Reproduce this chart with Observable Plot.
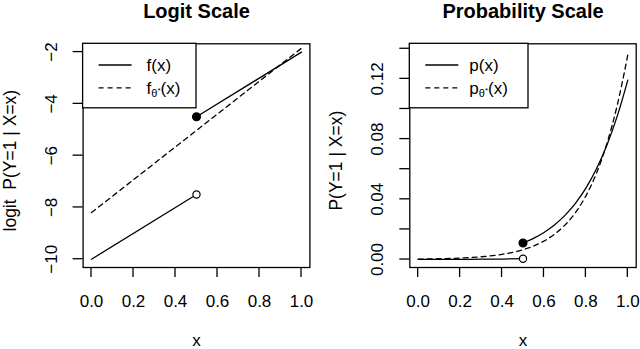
<!DOCTYPE html>
<html><head><meta charset="utf-8">
<script src="https://cdn.jsdelivr.net/npm/d3@7"></script>
<script src="https://cdn.jsdelivr.net/npm/@observablehq/plot@0.6"></script>
<style>
body{margin:0;background:#fff;}
#wrap{display:flex;width:640px;height:349px;}
#wrap svg{overflow:visible;}
</style></head><body><div id="wrap"></div>
<script>
// ---- tick values / labels ----
const xTicks = [0, 0.2, 0.4, 0.6, 0.8, 1.0];
const xTickLabels = ["0.0", "0.2", "0.4", "0.6", "0.8", "1.0"];
const logitTicks = [-10, -8, -6, -4, -2];
const logitTickLabels = ["\u221210", "\u22128", "\u22126", "\u22124", "\u22122"];
const probTicks = [0, 0.02, 0.04, 0.06, 0.08, 0.10, 0.12, 0.14];
const probLabelTicks = [0, 0.04, 0.08, 0.12];
const probTickLabels = ["0.00", "0.04", "0.08", "0.12"];

// ---- logit panel data ----
const fLowX = [0, 0.5];
const fLowY = [-10, -7.5];
const fHighX = [0.5, 1.0];
const fHighY = [-4.5, -2.0];
const fStarX = [0, 1.0];
const fStarY = [-8.2, -1.85];

// ---- probability panel data ----
const pLowX = [0, 0.1, 0.2, 0.3, 0.4, 0.5];
const pLowY = [0.00005, 0.00007, 0.00012, 0.0002, 0.00033, 0.00055];
const pHighX = [0.5, 0.55, 0.6, 0.65, 0.7, 0.75, 0.8, 0.85, 0.9, 0.95, 1.0];
const pHighY = [0.011, 0.0141, 0.018, 0.023, 0.0293, 0.0373, 0.0474, 0.0601, 0.0759, 0.0954, 0.1192];
const pStarX = [0, 0.1, 0.2, 0.3, 0.4, 0.5, 0.55, 0.6, 0.65, 0.7, 0.75, 0.8, 0.85, 0.9, 0.95, 1.0];
const pStarY = [0.00027, 0.00052, 0.00098, 0.00184, 0.00347, 0.00653, 0.00894, 0.01225, 0.01675, 0.02286, 0.03114, 0.04229, 0.05718, 0.07693, 0.10276, 0.13583];

const titles = ["Logit Scale", "Probability Scale"];
const yLabels = ["logit\u00a0\u00a0P(Y=1 | X=x)", "P(Y=1 | X=x)"];
const xLabel = "x";
const legendLogit = [["f", null], ["f", "θ*"]];
const legendProb = [["p", null], ["p", "θ*"]];

const zip = (xs, ys) => xs.map((x, i) => ({x, y: ys[i]}));
const LW = 1.3;
const DASH = "5,4";
const FONT = "Liberation Sans, Arial, sans-serif";
const C = {textAnchor: "middle", lineAnchor: "middle"};

// tick marks outside the frame, positioned through Plot's own scales
function ticksMark(axis, values, size) {
  return (index, scales, channels, dims) => {
    const g = d3.create("svg:g").attr("stroke", "black").attr("stroke-width", LW);
    const fl = dims.marginLeft, fb = dims.height - dims.marginBottom;
    values.forEach(v => {
      if (axis === "x") {
        const p = scales.x(v);
        g.append("line").attr("x1", p).attr("x2", p).attr("y1", fb).attr("y2", fb + size);
      } else {
        const p = scales.y(v);
        g.append("line").attr("y1", p).attr("y2", p).attr("x1", fl).attr("x2", fl - size);
      }
    });
    return g.node();
  };
}

function legendMark(labels, boxW, textX) {
  return (index, scales, values, dims) => {
    const g = d3.create("svg:g");
    const x0 = dims.marginLeft, y0 = dims.marginTop;
    g.append("rect").attr("x", x0).attr("y", y0).attr("width", boxW).attr("height", 64.5)
      .attr("fill", "white").attr("stroke", "black").attr("stroke-width", LW);
    const rows = [21.7, 44.5];
    labels.forEach(([base, sub], i) => {
      const y = y0 + rows[i];
      g.append("line").attr("x1", x0 + 16).attr("x2", x0 + 49).attr("y1", y).attr("y2", y)
        .attr("stroke", "black").attr("stroke-width", LW)
        .attr("stroke-dasharray", i === 1 ? DASH : null);
      const t = g.append("text").attr("x", x0 + textX).attr("y", y).attr("dy", "0.36em")
        .attr("text-anchor", "start").attr("font-size", 17).attr("fill", "black");
      t.append("tspan").text(base);
      if (sub) {
        t.append("tspan").attr("font-size", 11).attr("dy", 3).text("θ");
        t.append("tspan").attr("font-size", 8).attr("dy", -4).text("*");
        t.append("tspan").attr("dy", 1).text("(x)");
      } else {
        t.append("tspan").text("(x)");
      }
    });
    return g.node();
  };
}

function common(title, yLabel) {
  return [
    Plot.text([title], {...C, frameAnchor: "top", dy: -32.7, fontSize: 20, fontWeight: "bold"}),
    Plot.text([yLabel], {...C, frameAnchor: "left", dx: -73, dy: 5, rotate: -90, fontSize: 17.5}),
    Plot.text([xLabel], {...C, frameAnchor: "bottom", dy: 73, fontSize: 17}),
    ticksMark("x", xTicks, 10),
    Plot.text(xTicks, {...C, x: d => d, text: (d, i) => xTickLabels[i], frameAnchor: "bottom", dy: 34, fontSize: 17}),
    Plot.frame({stroke: "black", strokeWidth: LW})
  ];
}

const left = Plot.plot({
  width: 320, height: 349,
  marginLeft: 82.6, marginRight: 10.6, marginTop: 43.3, marginBottom: 82,
  style: {fontFamily: FONT, fontSize: "16px", background: "white"},
  x: {domain: [-0.04, 1.04], axis: null},
  y: {domain: [-10.32, -1.68], axis: null},
  marks: [
    ...common(titles[0], yLabels[0]),
    ticksMark("y", logitTicks, 10),
    Plot.text(logitTicks, {...C, y: d => d, text: (d, i) => logitTickLabels[i], frameAnchor: "left", dx: -32, rotate: -90, fontSize: 17}),
    Plot.line(zip(fStarX, fStarY), {x: "x", y: "y", stroke: "black", strokeWidth: LW, strokeDasharray: DASH}),
    Plot.line(zip(fLowX, fLowY), {x: "x", y: "y", stroke: "black", strokeWidth: LW}),
    Plot.line(zip(fHighX, fHighY), {x: "x", y: "y", stroke: "black", strokeWidth: LW}),
    Plot.dot([{x: fLowX[1], y: fLowY[1]}], {x: "x", y: "y", r: 3.6, fill: "white", stroke: "black", strokeWidth: 1.2}),
    Plot.dot([{x: fHighX[0], y: fHighY[0]}], {x: "x", y: "y", r: 3.8, fill: "black", stroke: "black"}),
    legendMark(legendLogit, 113.4, 64)
  ]
});

const right = Plot.plot({
  width: 320, height: 349,
  marginLeft: 89.3, marginRight: 4.3, marginTop: 43.3, marginBottom: 82,
  style: {fontFamily: FONT, fontSize: "16px", background: "white"},
  x: {domain: [-0.04, 1.04], axis: null},
  y: {domain: [-0.0053, 0.1433], axis: null},
  marks: [
    ...common(titles[1], yLabels[1]),
    ticksMark("y", probTicks, 10),
    Plot.text(probLabelTicks, {...C, y: d => d, text: (d, i) => probTickLabels[i], frameAnchor: "left", dx: -32, rotate: -90, fontSize: 17}),
    Plot.line(zip(pStarX, pStarY), {x: "x", y: "y", stroke: "black", strokeWidth: LW, strokeDasharray: DASH, curve: "monotone-x"}),
    Plot.line(zip(pLowX, pLowY), {x: "x", y: "y", stroke: "black", strokeWidth: LW, curve: "monotone-x"}),
    Plot.line(zip(pHighX, pHighY), {x: "x", y: "y", stroke: "black", strokeWidth: LW, curve: "monotone-x"}),
    Plot.dot([{x: pLowX[5], y: pLowY[5]}], {x: "x", y: "y", r: 3.6, fill: "white", stroke: "black", strokeWidth: 1.2}),
    Plot.dot([{x: pHighX[0], y: pHighY[0]}], {x: "x", y: "y", r: 3.8, fill: "black", stroke: "black"}),
    legendMark(legendProb, 118.7, 60)
  ]
});

document.getElementById("wrap").append(left, right);
</script>
</body></html>
